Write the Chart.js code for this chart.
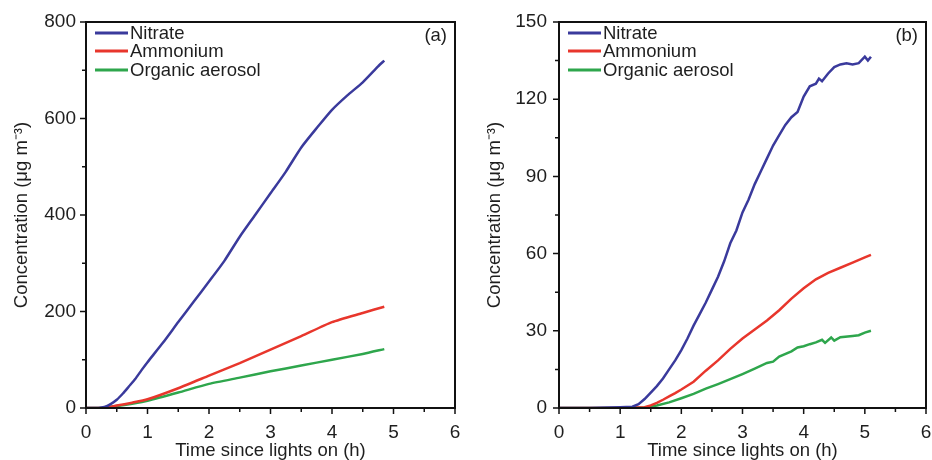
<!DOCTYPE html>
<html>
<head>
<meta charset="utf-8">
<script src="https://cdn.jsdelivr.net/npm/chart.js@4.4.0/dist/chart.umd.min.js"></script>
<style>
body{margin:0;background:#fff;width:932px;height:460px;overflow:hidden;position:relative}
canvas{position:absolute;top:0}
</style>
</head>
<body>
<canvas id="chartA" width="470" height="460" style="left:0"></canvas>
<canvas id="chartB" width="462" height="460" style="left:470px"></canvas>
<script>
var seriesNames = ['Nitrate', 'Ammonium', 'Organic aerosol'];
var seriesColors = ['#3a3a9c', '#e8362c', '#2ea64c'];

// panel (a)
var nitrateA_t = [0, 0.2, 0.3, 0.4, 0.5, 0.6, 0.7, 0.8, 0.9, 1.0, 1.25, 1.5, 1.75, 2.0, 2.25, 2.5, 2.75, 3.0, 3.25, 3.5, 3.75, 4.0, 4.25, 4.5, 4.75, 4.85];
var nitrateA   = [0, 0, 2, 8, 17, 30, 45, 60, 78, 95, 135, 178, 220, 262, 305, 355, 400, 445, 490, 540, 580, 618, 648, 675, 708, 720];
var ammoniumA_t = [0, 0.3, 0.5, 0.75, 1.0, 1.5, 2.0, 2.5, 3.0, 3.5, 4.0, 4.5, 4.85];
var ammoniumA   = [0, 0, 5, 11, 18, 41, 67, 93, 121, 149, 178, 197, 210];
var organicA_t = [0, 0.3, 0.5, 0.75, 1.0, 1.5, 2.0, 2.5, 3.0, 3.5, 4.0, 4.5, 4.85];
var organicA   = [0, 0.5, 4, 9, 15, 32, 50, 63, 76, 88, 100, 112, 122];

// panel (b)
var nitrateB_t = [0, 0.5, 1.0, 1.2, 1.3, 1.4, 1.5, 1.6, 1.7, 1.8, 1.9, 2.0, 2.1, 2.2, 2.3, 2.4, 2.5, 2.6, 2.7, 2.8, 2.9, 3.0, 3.1, 3.2, 3.3, 3.4, 3.5, 3.6, 3.7, 3.8, 3.9, 4.0, 4.1, 4.2, 4.25, 4.3, 4.4, 4.5, 4.6, 4.7, 4.8, 4.9, 5.0, 5.05, 5.1];
var nitrateB   = [0, 0, 0.3, 0.5, 1.5, 3.5, 6, 8.5, 11.5, 15, 18.5, 22.5, 27, 32, 36.5, 41, 46, 51, 57, 64, 69, 76, 81, 87, 92, 97, 102, 106, 110, 113, 115, 121, 125, 126, 128, 127, 130, 132.5, 133.5, 134, 133.5, 134, 136.5, 135, 136.5];
var ammoniumB_t = [0, 1.0, 1.4, 1.5, 1.6, 1.7, 1.8, 1.9, 2.0, 2.2, 2.4, 2.6, 2.8, 3.0, 3.2, 3.4, 3.6, 3.8, 4.0, 4.2, 4.4, 4.6, 4.8, 5.0, 5.1];
var ammoniumB   = [0, 0, 0.3, 1, 2, 3.2, 4.5, 5.8, 7.2, 10.2, 14.5, 18.5, 23, 27, 30.5, 34, 38, 42.5, 46.5, 50, 52.5, 54.5, 56.5, 58.5, 59.5];
var organicB_t = [0, 1.0, 1.4, 1.6, 1.8, 2.0, 2.2, 2.4, 2.6, 2.8, 3.0, 3.2, 3.4, 3.5, 3.6, 3.8, 3.9, 4.0, 4.1, 4.2, 4.3, 4.35, 4.45, 4.5, 4.6, 4.8, 4.9, 5.0, 5.1];
var organicB   = [0, 0, 0.2, 1, 2.2, 3.8, 5.5, 7.5, 9.3, 11.2, 13.2, 15.3, 17.5, 18, 20, 22, 23.5, 24, 24.8, 25.5, 26.5, 25.3, 27.4, 26.2, 27.5, 28, 28.3, 29.3, 30];

var xTicks = [0, 1, 2, 3, 4, 5, 6];
var yTicksA = [0, 200, 400, 600, 800];
var yTicksB = [0, 30, 60, 90, 120, 150];

var fontFamily = '"Liberation Sans", Arial, sans-serif';
var textColor = '#1e1e1e';

function pts(t, v) {
  return t.map(function(x, i){ return { x: x, y: v[i] }; });
}

// frame, tick marks, legend and panel tag
var framePlugin = {
  id: 'frame',
  afterDraw: function(chart) {
    var o = chart.options.plugins.frame;
    var ctx = chart.ctx, a = chart.chartArea;
    var sx = chart.scales.x, sy = chart.scales.y;
    ctx.save();
    ctx.strokeStyle = '#111';
    ctx.lineWidth = 1.5;
    ctx.beginPath();
    for (var x = sx.min; x <= sx.max + 1e-9; x += o.xStep / 2) {
      var px = sx.getPixelForValue(x);
      var major = Math.abs(x / o.xStep - Math.round(x / o.xStep)) < 1e-6;
      ctx.moveTo(px, a.bottom);
      ctx.lineTo(px, a.bottom + (major ? 6 : 4));
    }
    for (var y = sy.min; y <= sy.max + 1e-9; y += o.yStep / 2) {
      var py = sy.getPixelForValue(y);
      var majorY = Math.abs(y / o.yStep - Math.round(y / o.yStep)) < 1e-6;
      ctx.moveTo(a.left, py);
      ctx.lineTo(a.left - (majorY ? 6 : 4), py);
    }
    ctx.stroke();
    ctx.lineWidth = 2;
    ctx.strokeRect(a.left, a.top, a.right - a.left, a.bottom - a.top);

    // legend
    ctx.font = '18.5px ' + fontFamily;
    ctx.textBaseline = 'middle';
    ctx.textAlign = 'left';
    chart.data.datasets.forEach(function(ds, i) {
      var ly = o.legendY[i];
      ctx.strokeStyle = ds.borderColor;
      ctx.lineWidth = 3;
      ctx.beginPath();
      ctx.moveTo(a.left + o.legendX, ly);
      ctx.lineTo(a.left + o.legendX + 33, ly);
      ctx.stroke();
      ctx.fillStyle = textColor;
      ctx.fillText(ds.label, a.left + o.legendX + 35, ly + 1);
    });

    ctx.textAlign = 'right';
    ctx.fillText(o.tag, a.right - 8, 36);
    ctx.restore();
  }
};

function makeChart(id, sets, yMax, yStep, opts) {
  var datasets = sets.map(function(s, i) {
    return {
      label: seriesNames[i],
      data: s,
      borderColor: seriesColors[i],
      borderWidth: 2.5,
      pointRadius: 0,
      tension: opts.tension,
      fill: false
    };
  });
  return new Chart(document.getElementById(id).getContext('2d'), {
    type: 'line',
    data: { datasets: datasets },
    options: {
      responsive: false,
      animation: false,
      layout: { padding: { top: 22, right: opts.padRight, left: 0, bottom: 0 } },
      plugins: {
        legend: { display: false },
        tooltip: { enabled: false },
        frame: { xStep: 1, yStep: yStep, tag: opts.tag, legendX: opts.legendX, legendY: [33, 51, 70] }
      },
      scales: {
        x: {
          type: 'linear', min: 0, max: 6,
          afterBuildTicks: function(s){ s.ticks = xTicks.map(function(v){ return { value: v }; }); },
          ticks: { padding: 13, color: textColor, font: { family: fontFamily, size: 19 }, maxRotation: 0, autoSkip: false },
          grid: { display: false, drawTicks: false },
          border: { display: false },
          title: { display: true, text: 'Time since lights on (h)', color: textColor,
                   font: { family: fontFamily, size: 18.5, lineHeight: 1 }, padding: { top: 0, bottom: 0 } },
          afterFit: function(s){ s.height = 52; s.paddingLeft = 0; s.paddingRight = 0; }
        },
        y: {
          type: 'linear', min: 0, max: yMax,
          afterBuildTicks: function(s){ s.ticks = opts.yTicks.map(function(v){ return { value: v }; }); },
          ticks: { padding: opts.yPad, color: textColor, font: { family: fontFamily, size: 19 }, autoSkip: false },
          grid: { display: false, drawTicks: false },
          border: { display: false },
          title: { display: true, text: 'Concentration (μg m⁻³)', color: textColor,
                   font: { family: fontFamily, size: 18.5, lineHeight: 1 }, padding: { top: opts.titlePad, bottom: 0 } },
          afterFit: function(s){ s.width = opts.yWidth; s.paddingTop = 0; s.paddingBottom = 0; }
        }
      }
    },
    plugins: [framePlugin]
  });
}

makeChart('chartA',
  [pts(nitrateA_t, nitrateA), pts(ammoniumA_t, ammoniumA), pts(organicA_t, organicA)],
  800, 200,
  { yTicks: yTicksA, yWidth: 86, padRight: 15, yPad: 10, titlePad: 13, tag: '(a)', legendX: 9, tension: 0.2 });

makeChart('chartB',
  [pts(nitrateB_t, nitrateB), pts(ammoniumB_t, ammoniumB), pts(organicB_t, organicB)],
  150, 30,
  { yTicks: yTicksB, yWidth: 89, padRight: 6, yPad: 12, titlePad: 16, tag: '(b)', legendX: 9, tension: 0 });
</script>
</body>
</html>
